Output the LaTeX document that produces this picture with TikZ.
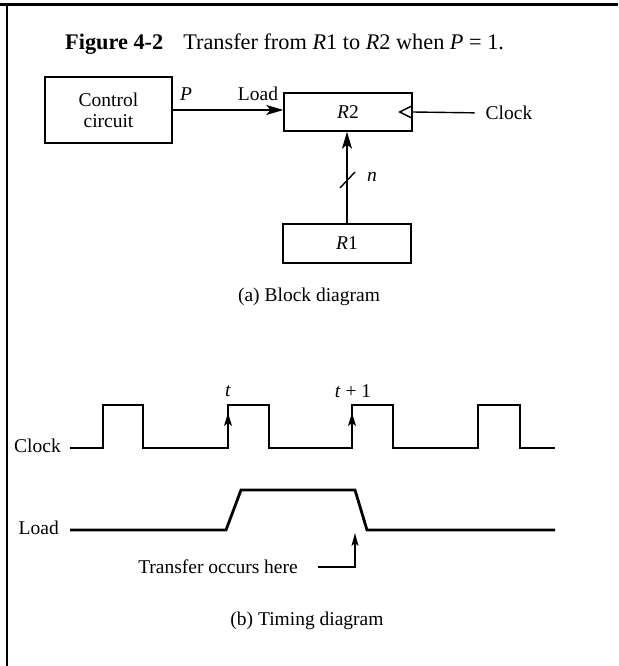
\documentclass[tikz,border=0pt]{standalone}
\usepackage{fontspec}
\setmainfont{Liberation Serif}
\usetikzlibrary{arrows.meta,calc}

\begin{document}
\begin{tikzpicture}[
    x=1pt, y=-1pt,
    text=black,
    lbl/.style={font=\fontsize{19.5}{23}\selectfont, inner sep=0pt},
    regbox/.style={draw=black, line width=1.4pt, minimum width=128pt, minimum height=38pt, inner sep=0pt, font=\fontsize{19.5}{23}\selectfont},
    wire/.style={line width=1.4pt},
    arrowline/.style={wire, -{Stealth[length=17pt, width=10pt, inset=4pt]}},
    wave/.style={line width=2.8pt, line join=miter},
    edgearrow/.style={line width=1.2pt, -{Stealth[length=13pt, width=8pt, inset=3pt]}},
    thinarrow/.style={line width=1.1pt, -{Stealth[length=13pt, width=7pt, inset=3pt]}}
]

\useasboundingbox (0,0) rectangle (618,666);

% ==================== FRAME ====================
\draw[line width=3pt] (0,5) -- (618,5);
\draw[line width=2pt] (7,5) -- (7,666);

% Title
\node[anchor=base west, inner sep=0pt, font=\fontsize{22.3}{26}\selectfont] (title) at (65,50)
    {\textbf{Figure 4-2}\hspace{20pt}Transfer from \textit{R}1 to \textit{R}2 when \textit{P} = 1.};

% ==================== BLOCK DIAGRAM ====================
% Boxes
\node[regbox, minimum width=127pt, minimum height=66pt, align=center] (ctrl) at (108.5,110) {Control\\[-2pt]circuit};
\node[regbox] (r2) at (348,112) {\textit{R}2};
\node[regbox, minimum height=39pt] (r1) at (347,243.5) {\textit{R}1};

% Load line
\draw[arrowline] (ctrl.east) -- (ctrl.east -| r2.west);
\node[lbl] (plbl) at (186,94) {\textit{P}};
\node[lbl] (loadin) at (258,94) {Load};

% Clock input with its triangle
\node[lbl] (clkin) at (509,113) {Clock};
\draw[wire] ($(r2.east)+(0,-6.5)$) -- ($(r2.east)+(-13,0)$) -- ($(r2.east)+(0,6.5)$);
\draw[wire, shorten <=11pt] (clkin.west) -- (r2.east);

% n-bit bus
\draw[arrowline] (r1.north) -- (r1.north |- r2.south);
\coordinate (busmid) at (347,180);
\draw[wire] ($(busmid)+(-7,8)$) -- ($(busmid)+(8,-8)$);
\node[lbl] (nlbl) at (372,177) {\textit{n}};

% Caption
\node[lbl] (capa) at (309,297) {(a) Block diagram};

% ==================== TIMING DIAGRAM ====================
\node[lbl, anchor=east] (clklbl) at (61,446) {Clock};
\node[lbl, anchor=east] (loadlbl) at (59,528) {Load};

% Clock pulses
\draw[wave] (70,448) -- (103,448) -- (103,405) -- (143,405) -- (143,448)
    -- (228,448) -- (228,405) -- (269,405) -- (269,448)
    -- (352,448) -- (352,405) -- (393,405) -- (393,448)
    -- (478,448) -- (478,405) -- (520,405) -- (520,448) -- (555,448);

% Rising edges t and t+1
\coordinate (riset) at (228,413);
\coordinate (riset1) at (352,413);
\draw[edgearrow] ($(riset)+(0,30)$) -- (riset);
\draw[edgearrow] ($(riset1)+(0,30)$) -- (riset1);
\node[lbl] (tlbl) at (228,391) {\textit{t}};
\node[lbl] (t1lbl) at (353,391) {\textit{t} + 1};

% Load signal
\draw[wave] (70,530) -- (226,530) -- (241,490) -- (355,490) -- (367,530) -- (555,530);

% Transfer point
\coordinate (xferpt) at (355,533);
\node[lbl, anchor=east] (xfer) at (298,567) {Transfer occurs here};
\draw[thinarrow, shorten <=20pt] (xfer.east) -| (xferpt);

% Caption
\node[lbl] (capb) at (307,621) {(b) Timing diagram};

\end{tikzpicture}
\end{document}
